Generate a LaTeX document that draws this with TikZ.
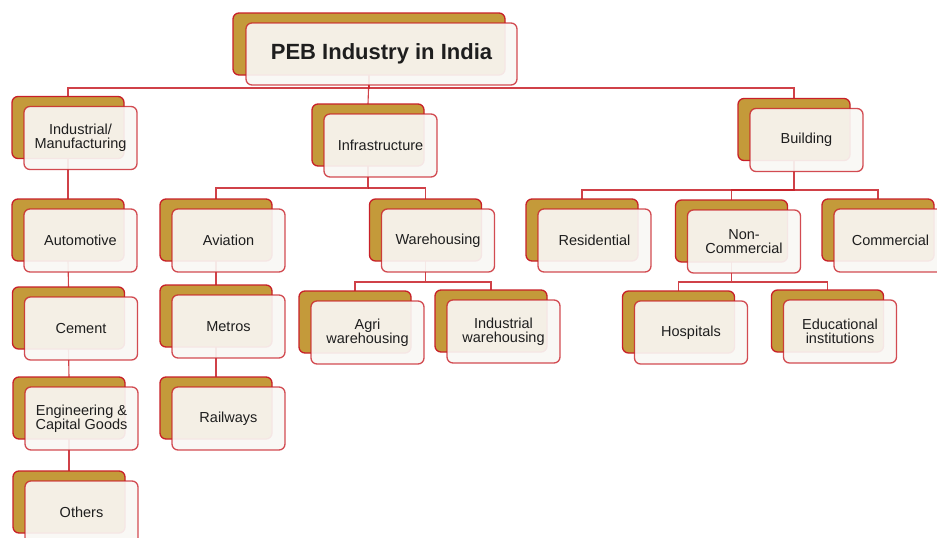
\documentclass[tikz,border=0pt]{standalone}
\usepackage{fontspec}
\setmainfont{Liberation Sans}
\usetikzlibrary{calc}
\definecolor{gold}{RGB}{196,154,58}
\definecolor{rline}{RGB}{200,32,40}
\definecolor{ffill}{RGB}{249,247,244}
\definecolor{txt}{RGB}{30,30,30}
\tikzset{
  backbox/.style={draw=rline, line width=1.3pt, fill=gold, rounded corners=6pt,
    minimum width=112pt, minimum height=62pt, inner sep=0pt, outer sep=0pt},
  frontbox/.style={draw=rline, draw opacity=0.8, line width=1.3pt, fill=ffill,
    fill opacity=0.92, text opacity=1, rounded corners=6pt,
    minimum width=113pt, minimum height=63pt, inner sep=0pt, outer sep=0pt,
    align=center, font=\fontsize{14.5}{14}\selectfont, text=txt},
  conn/.style={draw=rline, line width=1.1pt, draw opacity=0.85},
}
\newcommand\pebback[3]{\node[backbox] (b#1) at (#2,#3) {};}
\newcommand\pebfront[2]{\node[frontbox] (f#1) at ($(b#1)+(12.5,10.5)$) {#2};}
\begin{document}
\begin{tikzpicture}[x=1pt,y=-1pt]
\useasboundingbox (0,0) rectangle (937,538);
\clip (0,0) rectangle (937,538);
% back boxes
\node[backbox, minimum width=272pt] (btitle) at (369,44) {};
\pebback{ind}{68}{127.5}
\pebback{infra}{368}{135}
\pebback{bld}{794}{129.5}
\pebback{auto}{68}{230}
\pebback{cem}{68.5}{318}
\pebback{eng}{69}{408}
\pebback{oth}{69}{502}
\pebback{avi}{216}{230}
\pebback{met}{216}{316}
\pebback{rail}{216}{408}
\pebback{ware}{425.5}{230}
\pebback{agri}{355}{322}
\pebback{iware}{491}{321}
\pebback{res}{582}{230}
\pebback{ncom}{731.5}{231}
\pebback{com}{878}{230}
\pebback{hos}{678.5}{322}
\pebback{edu}{827.5}{321}
% connectors
\draw[conn] (btitle.south) -- (btitle.south |- 0,88) -| (bind.north);
\draw[conn] (btitle.south) -- (binfra.north);
\draw[conn] (btitle.south |- 0,88) -| (bbld.north);
\draw[conn] (bind.south) -- (bauto.north);
\draw[conn] (bauto.south) -- (bcem.north);
\draw[conn] (bcem.south) -- (beng.north);
\draw[conn] (beng.south) -- (both.north);
\draw[conn] (binfra.south) -- (binfra.south |- 0,188) -| (bavi.north);
\draw[conn] (binfra.south |- 0,188) -| (bware.north);
\draw[conn] (bavi.south) -- (bmet.north);
\draw[conn] (bmet.south) -- (brail.north);
\draw[conn] (bware.south) -- (bware.south |- 0,282) -| (bagri.north);
\draw[conn] (bware.south |- 0,282) -| (biware.north);
\draw[conn] (bbld.south) -- (bbld.south |- 0,190) -| (bres.north);
\draw[conn] (bbld.south |- 0,190) -| (bncom.north);
\draw[conn] (bbld.south |- 0,190) -| (bcom.north);
\draw[conn] (bncom.south) -- (bncom.south |- 0,282) -| (bhos.north);
\draw[conn] (bncom.south |- 0,282) -| (bedu.north);
% front boxes
\node[frontbox, minimum width=271pt, minimum height=62pt, font=\bfseries\fontsize{22}{24}\selectfont]
  (ftitle) at ($(btitle)+(12.5,10)$) {PEB Industry in India};
\pebfront{ind}{Industrial/\\Manufacturing}
\pebfront{infra}{Infrastructure}
\pebfront{bld}{Building}
\pebfront{auto}{Automotive}
\pebfront{cem}{Cement}
\pebfront{eng}{Engineering \&\\Capital Goods}
\pebfront{oth}{Others}
\pebfront{avi}{Aviation}
\pebfront{met}{Metros}
\pebfront{rail}{Railways}
\pebfront{ware}{Warehousing}
\pebfront{agri}{Agri\\warehousing}
\pebfront{iware}{Industrial\\warehousing}
\pebfront{res}{Residential}
\pebfront{ncom}{Non-\\Commercial}
\pebfront{com}{Commercial}
\pebfront{hos}{Hospitals}
\pebfront{edu}{Educational\\institutions}
\end{tikzpicture}
\end{document}
